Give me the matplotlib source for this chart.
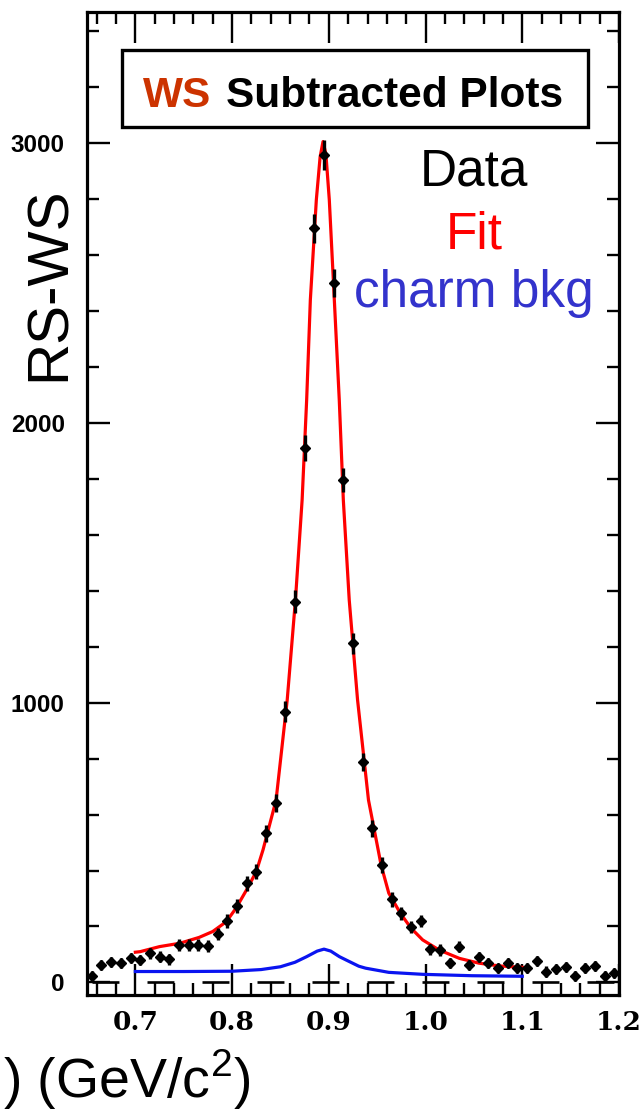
import matplotlib
matplotlib.use("Agg")
import matplotlib.pyplot as plt
from matplotlib.patches import Rectangle
from matplotlib.ticker import MultipleLocator

plt.rcParams['mathtext.fontset'] = 'custom'
plt.rcParams['mathtext.rm'] = 'Liberation Sans'
plt.rcParams['lines.scale_dashes'] = False

# data points (RS - WS), bin centres in GeV/c^2
mass = [0.655, 0.665, 0.675, 0.685, 0.695, 0.705, 0.715, 0.725, 0.735, 0.745,
        0.755, 0.765, 0.775, 0.785, 0.795, 0.805, 0.815, 0.825, 0.835, 0.845,
        0.855, 0.865, 0.875, 0.885, 0.895, 0.905, 0.915, 0.925, 0.935, 0.945,
        0.955, 0.965, 0.975, 0.985, 0.995, 1.005, 1.015, 1.025, 1.035, 1.045,
        1.055, 1.065, 1.075, 1.085, 1.095, 1.105, 1.115, 1.125, 1.135, 1.145,
        1.155, 1.165, 1.175, 1.185, 1.195]
rs_ws = [23, 62, 74, 71, 86, 80, 104, 92, 83, 134,
         134, 134, 130, 172, 220, 273, 354, 396, 533, 640,
         968, 1361, 1909, 2695, 2957, 2499, 1796, 1212, 789, 551,
         420, 297, 247, 197, 220, 119, 116, 71, 128, 63,
         90, 71, 51, 71, 51, 51, 77, 39, 47, 54,
         23, 51, 60, 23, 33]
rs_ws_err = [18, 18, 18, 18, 18, 18, 20, 20, 20, 20,
             20, 20, 20, 22, 24, 26, 28, 28, 30, 32,
             36, 40, 46, 52, 54, 50, 44, 38, 32, 30,
             28, 26, 24, 22, 22, 20, 20, 18, 20, 18,
             18, 18, 18, 18, 18, 18, 18, 18, 18, 18,
             18, 18, 18, 18, 18]

# fit curve
fit_mass = [0.700, 0.705, 0.725, 0.746, 0.766, 0.780, 0.794, 0.804, 0.815, 0.825,
            0.832, 0.8455, 0.857, 0.8655, 0.8724, 0.8771, 0.8809, 0.8871, 0.891, 0.894,
            0.897, 0.9005, 0.9057, 0.9108, 0.915, 0.9211, 0.9297, 0.941, 0.951, 0.954,
            0.962, 0.974, 0.985, 0.997, 1.014, 1.035, 1.055, 1.076, 1.100]
fit_vals = [108, 110, 128, 140, 161, 182, 217, 265, 331, 396,
            474, 652, 1010, 1367, 1724, 2082, 2439, 2797, 2950, 3005,
            2960, 2797, 2439, 2082, 1724, 1367, 1010, 652, 474, 420,
            319, 247, 194, 152, 116, 86, 69, 59, 54]

# charm background curve
bkg_mass = [0.700, 0.750, 0.800, 0.830, 0.850, 0.865, 0.877, 0.888, 0.895, 0.902,
            0.911, 0.918, 0.931, 0.938, 0.962, 0.997, 1.048, 1.100]
bkg_vals = [39, 39, 40, 46, 56, 72, 92, 112, 119, 112,
            92, 80, 58, 51, 36, 29, 24, 22]

xticks = [0.7, 0.8, 0.9, 1.0, 1.1, 1.2]
xtick_labels = ['0.7', '0.8', '0.9', '1.0', '1.1', '1.2']
yticks = [0, 1000, 2000, 3000]

fig = plt.figure(figsize=(6.41, 11.14), dpi=100)
ax = fig.add_axes([0.1357, 0.1068, 0.830, 0.8824])

ax.axhline(0, xmin=0.01, xmax=1.0, color='black', lw=1.9, dashes=(19.4, 20.2))
ax.plot(bkg_mass, bkg_vals, color='#0a14f0', lw=2.3)
ax.plot(fit_mass, fit_vals, color='#ff0000', lw=2.3)
ax.errorbar(mass, rs_ws, yerr=rs_ws_err, fmt='D', color='black', ms=5.5,
            elinewidth=2.4, capsize=0)

ax.set_xlim(0.65, 1.2)
ax.set_ylim(-45, 3468)
ax.set_xticks(xticks)
ax.set_xticklabels(xtick_labels)
ax.set_yticks(yticks)
ax.xaxis.set_minor_locator(MultipleLocator(0.02))
ax.yaxis.set_minor_locator(MultipleLocator(200))

for s in ax.spines.values():
    s.set_linewidth(2.3)
ax.tick_params(which='both', direction='in', top=True, right=True, width=1.7)
ax.tick_params(axis='x', which='major', length=22, pad=11)
ax.tick_params(axis='y', which='major', length=16.5, pad=16)
ax.tick_params(which='minor', length=8.5)
for lab in ax.get_xticklabels():
    lab.set_fontfamily('DejaVu Serif')
    lab.set_fontweight('bold')
    lab.set_fontsize(19)
for lab in ax.get_yticklabels():
    lab.set_fontfamily('Liberation Sans')
    lab.set_fontweight('bold')
    lab.set_fontsize(17.5)

# title box
ax.add_patch(Rectangle((0.0658, 0.883), 0.876, 0.078, transform=ax.transAxes,
                       fill=False, lw=2.4, edgecolor='black', zorder=5))
ax.text(0.105, 0.9034, 'WS', transform=ax.transAxes, color='#cc3300',
        fontfamily='Liberation Sans', fontweight='bold', fontsize=30.5, va='baseline')
ax.text(0.261, 0.9034, 'Subtracted Plots', transform=ax.transAxes, color='black',
        fontfamily='Liberation Sans', fontweight='bold', fontsize=30.5, va='baseline')

# legend-like labels
ax.text(0.7274, 0.824, 'Data', transform=ax.transAxes, color='black',
        fontfamily='Liberation Sans', fontsize=37, ha='center', va='baseline')
ax.text(0.7274, 0.7599, 'Fit', transform=ax.transAxes, color='#ff0000',
        fontfamily='Liberation Sans', fontsize=37, ha='center', va='baseline')
ax.text(0.7274, 0.6999, 'charm bkg', transform=ax.transAxes, color='#3333cc',
        fontfamily='Liberation Sans', fontsize=37, ha='center', va='baseline')

fig.text(0.078, 0.745, 'RS-WS', rotation=90, fontfamily='Liberation Sans',
         fontsize=42, ha='center', va='center')
fig.text(0.39, 0.014, ') (GeV/c$^2$)', fontfamily='Liberation Sans',
         fontsize=40, ha='right', va='baseline')

fig.savefig('out.png', dpi=100)
